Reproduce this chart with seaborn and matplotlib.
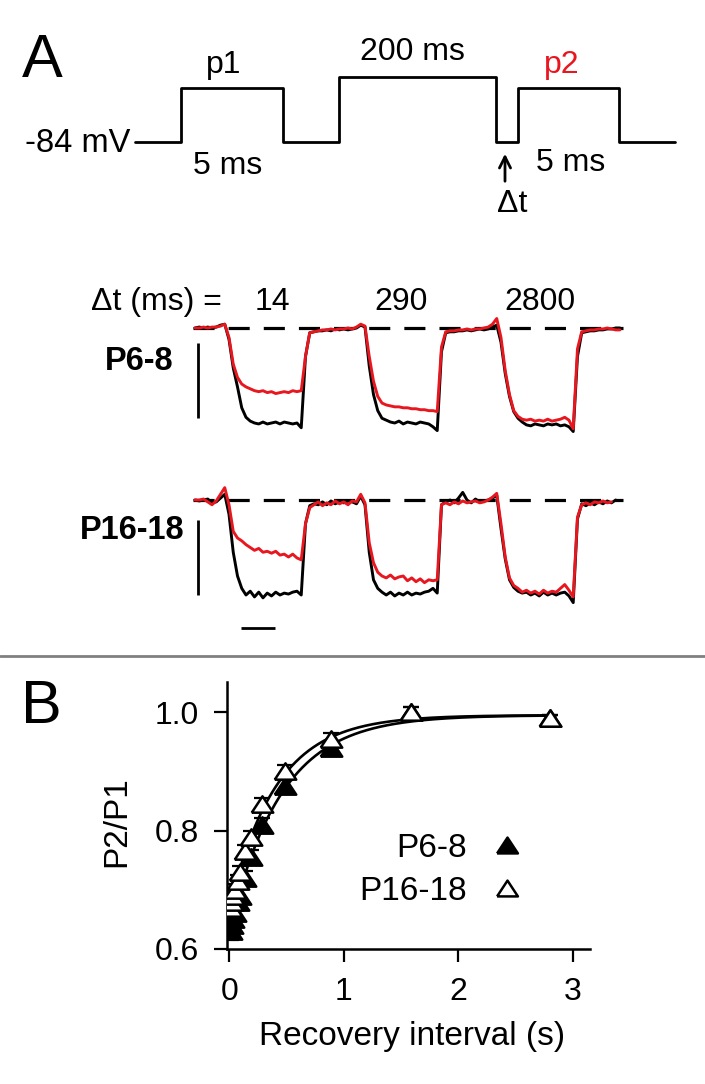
import numpy as np
import matplotlib
matplotlib.use("Agg")
import matplotlib.pyplot as plt
import seaborn as sns
from matplotlib.lines import Line2D

# ---------------- data ----------------
# Panel A: voltage protocol (schematic, not to scale)
proto_time = [0, 46, 148, 204, 361, 383, 484, 540]
proto_mV = [-84, 0, -84, 17, -84, 0, -84, -84]

# Panel A: normalized current traces, sampled every 0.25 ms
sample_ms = 0.25
p68_p1 = [0.00, 0.01, 0.00, 0.01, 0.00, 0.01, 0.03, 0.04, -0.12, -0.42,
          -0.62, -0.84, -0.94, -0.98, -1.00, -1.01, -0.99, -1.01, -1.00, -0.99,
          -1.01, -0.99, -1.00, -1.01, -1.00, -1.05, -0.30, -0.05, -0.04, -0.03,
          -0.03, -0.02, -0.03, -0.01, -0.02, -0.01, -0.02, -0.01, 0.00, 0.03,
          0.01, -0.40, -0.70, -0.87, -0.95, -0.97, -0.99, -1.00, -0.98, -1.01,
          -0.99, -1.00, -1.01, -0.99, -1.00, -1.01, -1.04, -1.08, -0.25, -0.05,
          -0.04, -0.04, -0.03, -0.03, -0.02, -0.03, -0.02, -0.01, -0.02, -0.01,
          0.01, 0.03, -0.15, -0.48, -0.72, -0.88, -0.95, -0.99, -1.02, -1.03,
          -1.01, -1.02, -1.03, -1.01, -1.02, -1.01, -1.03, -1.02, -1.04, -1.09,
          -0.30, -0.05, -0.04, -0.03, -0.03, -0.02, -0.02, -0.01, -0.01, 0.00,
          0.00]
p68_p2 = [0.00, 0.00, 0.01, 0.00, 0.01, 0.01, 0.02, 0.04, -0.10, -0.38,
          -0.52, -0.59, -0.62, -0.64, -0.66, -0.67, -0.66, -0.68, -0.67, -0.69,
          -0.68, -0.67, -0.68, -0.66, -0.67, -0.66, -0.30, -0.05, -0.04, -0.03,
          -0.02, -0.02, -0.01, -0.02, -0.01, -0.01, 0.00, -0.01, 0.01, 0.04,
          0.02, -0.30, -0.56, -0.72, -0.79, -0.81, -0.82, -0.83, -0.83, -0.84,
          -0.84, -0.85, -0.85, -0.86, -0.86, -0.87, -0.87, -0.88, -0.20, -0.04,
          -0.03, -0.03, -0.02, -0.02, -0.01, -0.02, -0.01, -0.01, 0.00, 0.01,
          0.04, 0.10, -0.10, -0.45, -0.70, -0.87, -0.93, -0.96, -0.97, -0.96,
          -0.98, -0.97, -0.98, -0.96, -0.98, -0.97, -0.96, -0.94, -0.97, -1.06,
          -0.22, -0.04, -0.03, -0.02, -0.02, -0.01, -0.01, 0.00, -0.01, -0.02,
          -0.02]
p1618_p1 = [0.00, -0.01, 0.00, 0.01, -0.03, -0.02, 0.02, 0.06, -0.15, -0.55,
            -0.80, -0.93, -1.00, -0.96, -1.02, -0.97, -1.03, -0.98, -1.01, -0.97,
            -1.00, -0.98, -0.99, -0.97, -0.96, -1.00, -0.25, -0.06, -0.04, -0.05,
            -0.02, -0.05, -0.01, -0.04, -0.02, -0.03, -0.01, -0.02, -0.04, 0.04,
            -0.05, -0.55, -0.84, -0.93, -0.97, -1.00, -0.97, -1.01, -0.98, -1.00,
            -0.97, -1.00, -0.98, -0.99, -0.97, -0.96, -0.93, -0.98, -0.05, -0.02,
            0.00, -0.03, 0.02, 0.08, 0.00, -0.03, 0.01, -0.02, -0.01, 0.00,
            0.02, 0.05, -0.30, -0.62, -0.84, -0.92, -0.96, -0.98, -0.97, -1.00,
            -0.98, -1.01, -0.97, -1.00, -0.98, -1.00, -0.98, -0.97, -1.01, -1.08,
            -0.20, -0.04, -0.06, -0.03, -0.05, -0.02, -0.04, -0.01, -0.03, 0.00]
p1618_p2 = [0.00, 0.00, 0.01, -0.02, -0.05, -0.01, 0.06, 0.13, -0.05, -0.33,
            -0.40, -0.43, -0.47, -0.50, -0.53, -0.51, -0.55, -0.54, -0.56, -0.54,
            -0.58, -0.57, -0.60, -0.57, -0.61, -0.63, -0.25, -0.08, -0.05, -0.02,
            -0.06, -0.03, -0.05, -0.01, -0.04, -0.02, -0.05, -0.01, -0.02, 0.06,
            -0.03, -0.45, -0.66, -0.76, -0.80, -0.82, -0.79, -0.83, -0.81, -0.80,
            -0.85, -0.82, -0.86, -0.83, -0.87, -0.84, -0.85, -0.84, -0.05, -0.03,
            -0.05, -0.02, -0.04, -0.01, -0.03, -0.02, -0.01, -0.03, -0.02, 0.00,
            0.03, 0.07, -0.25, -0.60, -0.82, -0.90, -0.93, -0.97, -0.95, -0.98,
            -0.96, -0.99, -0.95, -0.98, -0.96, -0.97, -0.93, -0.89, -0.95, -1.02,
            -0.18, -0.05, -0.03, -0.05, -0.02, -0.03, -0.01, -0.03, -0.02]
interval_labels = ["14", "290", "2800"]
group_labels = ["P6-8", "P16-18"]

# Panel B: recovery from inactivation
interval_s = [0.014, 0.024, 0.034, 0.054, 0.074, 0.094, 0.14, 0.19, 0.29,
              0.49, 0.89, 1.59, 2.8]
ratio_p68 = [0.63, 0.64, 0.65, 0.66, 0.68, 0.69, 0.72, 0.755, 0.81,
             0.875, 0.94, 1.0, 0.99]
err_p68 = [0.015, 0.012, 0.012, 0.012, 0.012, 0.012, 0.012, 0.012, 0.012,
           0.010, 0.012, 0.008, 0.006]
ratio_p1618 = [0.67, 0.68, 0.69, 0.70, 0.715, 0.73, 0.765, 0.79, 0.845,
               0.90, 0.955, 1.0, 0.99]
err_p1618 = [0.012, 0.010, 0.010, 0.010, 0.010, 0.010, 0.010, 0.010, 0.010,
             0.010, 0.010, 0.008, 0.006]
# single-exponential fits: plateau - amp * exp(-t / tau)
fit_p68 = dict(plateau=0.995, amp=0.365, tau=0.45)
fit_p1618 = dict(plateau=0.995, amp=0.325, tau=0.41)

# ---------------- figure ----------------
sns.set_theme(style="ticks")
plt.rcParams['font.family'] = ['Liberation Sans', 'DejaVu Sans']
plt.rcParams['axes.edgecolor'] = 'black'
plt.rcParams['xtick.color'] = 'black'
plt.rcParams['ytick.color'] = 'black'
plt.rcParams['text.color'] = 'black'
plt.rcParams['axes.labelcolor'] = 'black'

W, H = 705, 1084
fig = plt.figure(figsize=(W / 100, H / 100), dpi=100)
fig.patch.set_facecolor('white')
RED = '#e8161e'
FS = 23


def add_ax(x0, y0, x1, y1):
    return fig.add_axes([x0 / W, 1 - y1 / H, (x1 - x0) / W, (y1 - y0) / H])


def ftext(x, y, s, **kw):
    kw.setdefault('fontsize', FS)
    kw.setdefault('ha', 'center')
    kw.setdefault('va', 'baseline')
    fig.text(x / W, 1 - y / H, s, **kw)


# ---- protocol ----
ax_p = add_ax(135, 70, 675, 150)
sns.lineplot(x=proto_time, y=proto_mV, ax=ax_p, color='black', lw=2.0,
             drawstyle='steps-post', estimator=None, sort=False)
for ln in ax_p.lines:
    ln.set_clip_on(False)
ax_p.set_xlim(0, 540)
ax_p.set_ylim(-96.4, 28)
ax_p.axis('off')

ftext(42, 77, 'A', fontsize=44)
ftext(224, 73, 'p1')
ftext(412, 60, '200 ms')
ftext(562, 73, 'p2', color=RED)
ftext(130, 152, '-84 mV', ha='right', fontsize=23.5)
ftext(228, 174, '5 ms')
ftext(571, 171, '5 ms')
ftext(512, 212, 'Δt')
fig.add_artist(matplotlib.patches.FancyArrowPatch(
    (505 / W, 1 - 184 / H), (505 / W, 1 - 151 / H), transform=fig.transFigure,
    arrowstyle='->', mutation_scale=20, lw=2.0, color='black'))

# ---- current traces ----
ftext(156, 310, 'Δt (ms) =')
for lab, xc in zip(interval_labels, [272, 401, 540]):
    ftext(xc, 310, lab)

xlim_tr = (-0.294, 25.59)
for row, (k_tr, r_tr, y0, y1, lab, lab_x, lab_y) in enumerate([
        (p68_p1, p68_p2, 310, 440, group_labels[0], 139, 370),
        (p1618_p1, p1618_p2, 482, 640, group_labels[1], 132, 539)]):
    ax = add_ax(190, y0, 630, y1)
    t_k = np.arange(len(k_tr)) * sample_ms
    t_r = np.arange(len(r_tr)) * sample_ms
    ax.hlines(0, -0.12, 25.2, colors='black', lw=2.3, linestyles=(0, (6.6, 4.4)))
    sns.lineplot(x=t_k, y=k_tr, ax=ax, color='black', lw=2.1,
                 estimator=None, sort=False)
    sns.lineplot(x=t_r, y=r_tr, ax=ax, color=RED, lw=2.1,
                 estimator=None, sort=False)
    ax.set_xlim(*xlim_tr)
    ax.set_ylim(-(y1 - (y0 + 18)) / 95, 18 / 95)
    # scale bars
    if row == 0:
        ax.vlines(0.18, -0.95, -0.16, colors='black', lw=2.0)
    else:
        ax.vlines(0.18, -1.0, -0.21, colors='black', lw=2.0)
        ax.hlines(-1.35, 2.7, 4.7, colors='black', lw=2.0)
    ax.axis('off')
    ftext(lab_x, lab_y, lab, fontweight='bold', fontsize=23.5)

# separator
fig.add_artist(Line2D([0, 1], [1 - 656 / H] * 2, color='#808080', lw=2.0,
                      transform=fig.transFigure))

# ---- panel B ----
ftext(41, 723, 'B', fontsize=44)
ax_b = add_ax(227, 682, 590, 949)
t_fit = np.linspace(0, 2.85, 300)
for fp in (fit_p68, fit_p1618):
    sns.lineplot(x=t_fit, y=fp['plateau'] - fp['amp'] * np.exp(-t_fit / fp['tau']),
                 ax=ax_b, color='black', lw=1.9, estimator=None, sort=False)

tri = [(-1, -0.76), (1, -0.76), (0, 0.76), (-1, -0.76)]
for vals, errs, face in ((ratio_p68, err_p68, 'black'),
                         (ratio_p1618, err_p1618, 'white')):
    ax_b.errorbar(interval_s, vals, yerr=errs, fmt='none', ecolor='black',
                  elinewidth=1.6, capsize=5.5, capthick=1.6, zorder=3)
    sns.scatterplot(x=interval_s, y=vals, ax=ax_b, marker=tri, s=240,
                    color=face, edgecolor='black', linewidth=1.8, zorder=4)

ax_b.set_xlim(-0.02, 3.15)
ax_b.set_ylim(0.6, 1.051)
ax_b.set_xticks([0, 1, 2, 3])
ax_b.set_yticks([0.6, 0.8, 1.0])
ax_b.set_yticklabels(['0.6', '0.8', '1.0'])
ax_b.tick_params(direction='out', length=9.5, width=1.6, labelsize=FS, pad=11,
                 colors='black')
for side in ('top', 'right'):
    ax_b.spines[side].set_visible(False)
for side in ('left', 'bottom'):
    ax_b.spines[side].set_linewidth(1.8)
    ax_b.spines[side].set_color('black')
ax_b.set_xlabel('Recovery interval (s)', fontsize=24)
ax_b.set_ylabel('P2/P1', fontsize=24)
ax_b.xaxis.set_label_coords(0.51, -0.27)
ax_b.yaxis.set_label_coords(-0.262, 0.476)

handles = [Line2D([], [], marker=tri, ms=15, ls='none', mfc=c, mec='black', mew=1.8)
           for c in ('black', 'white')]
ax_b.legend(handles, group_labels, markerfirst=False, frameon=False,
            loc='center right', bbox_to_anchor=(0.807, 0.296),
            borderaxespad=0, borderpad=0, handlelength=0.8, handletextpad=0.8,
            labelspacing=0.35, fontsize=24)

fig.savefig('out.png', dpi=100, facecolor='white')
